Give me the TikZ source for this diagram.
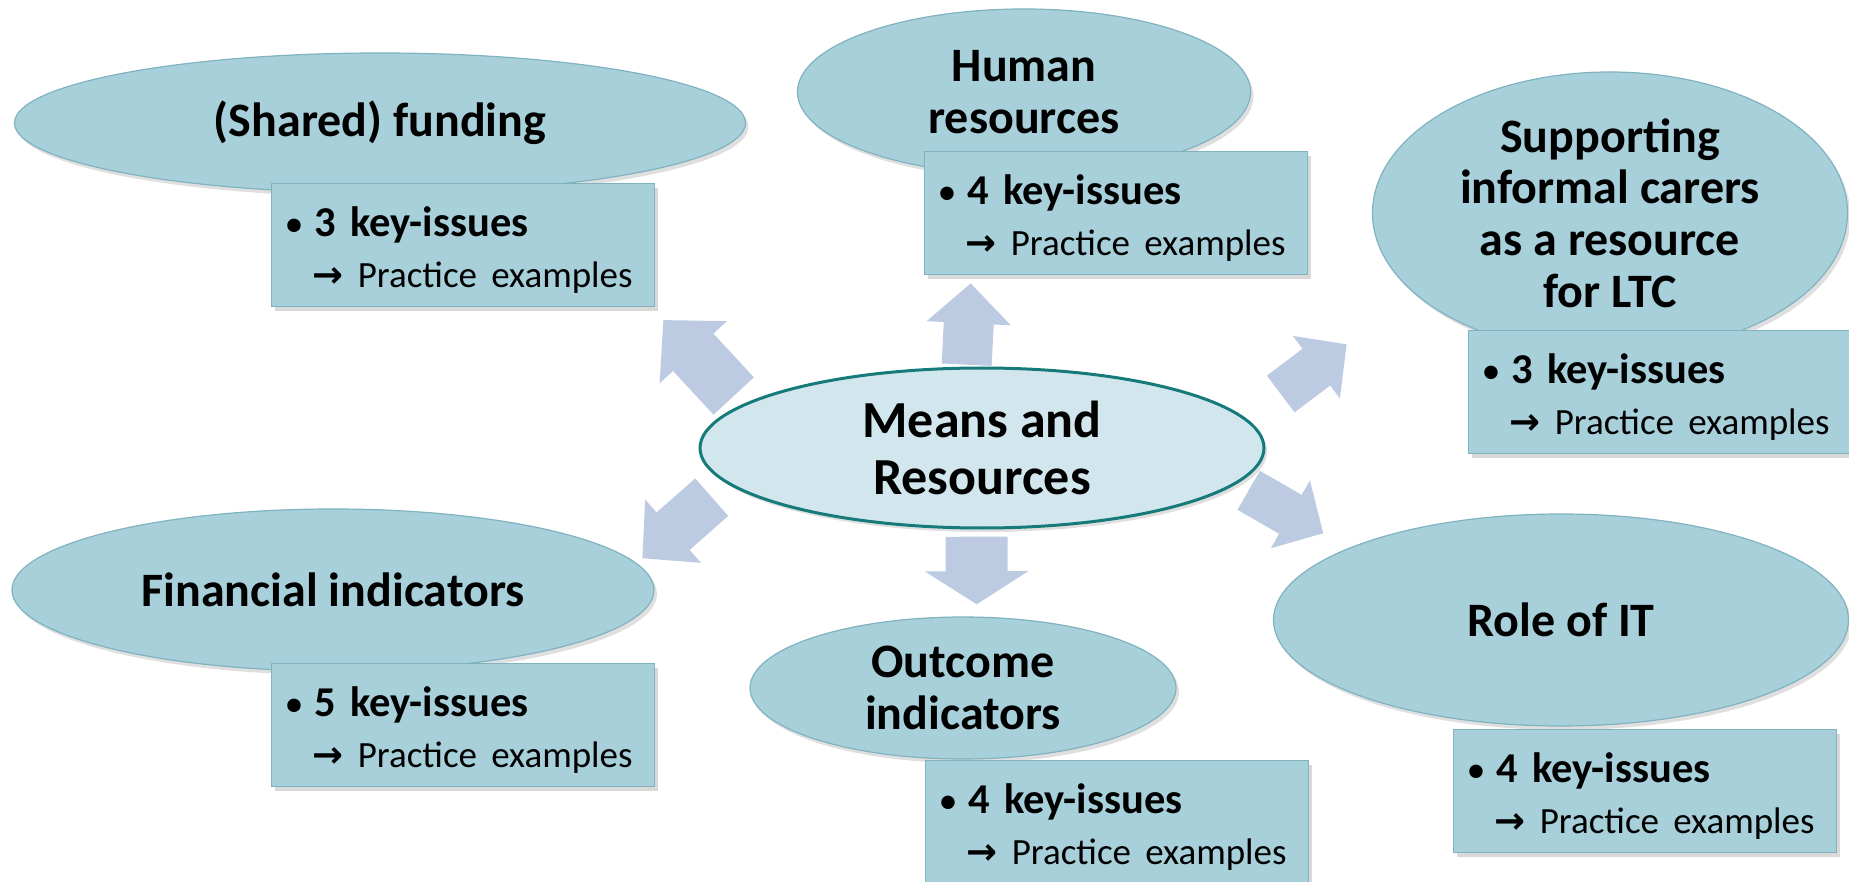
\documentclass[tikz,border=0pt]{standalone}
\usepackage{fontspec}
\setmainfont{Carlito}
\newfontfamily\arrowfont{DejaVu Sans}
\usetikzlibrary{shapes.geometric,arrows.meta,shadows}

\definecolor{bubblefill}{RGB}{167,208,218}
\definecolor{bubbleedge}{RGB}{128,178,192}
\definecolor{mainfill}{RGB}{210,231,237}
\definecolor{mainedge}{RGB}{22,122,122}
\definecolor{arrowblue}{RGB}{188,203,225}

\newcommand{\keyissues}[1]{\rule{0pt}{20pt}\makebox[11.5pt][l]{\hspace*{-3.5pt}\fontsize{19}{25.5}\selectfont •}\textbf{#1 key-issues}\\
  \hspace*{10.5pt}{\fontsize{18.5}{25.5}\selectfont{\arrowfont\bfseries →}\ Practice examples}}

\begin{document}
\begin{tikzpicture}[x=0.5pt, y=-0.5pt,
    bubble/.style={ellipse, fill=bubblefill, draw=bubbleedge, line width=0.6pt, inner sep=0pt,
        align=center, font=\fontsize{24}{25.8}\selectfont\bfseries,
        drop shadow={opacity=0.25, shadow xshift=1.5pt, shadow yshift=-2pt}},
    keybox/.style={rectangle, anchor=north west, fill=bubblefill, draw=bubbleedge, line width=0.6pt,
        minimum width=191.5pt, minimum height=61.5pt, text width=171.5pt,
        inner xsep=10pt, inner ysep=0pt, align=left, font=\fontsize{21.25}{25.5}\selectfont,
        drop shadow={opacity=0.3, shadow xshift=1.5pt, shadow yshift=-2pt}},
    bigarrow/.style n args={3}{draw=arrowblue, line width=#1, -{Triangle[width=#2, length=#3]}}]
    \useasboundingbox (0,0) rectangle (1849,882);

    % block arrows around the centre
    \coordinate (ulA) at (733.7,396);  \coordinate (ulB) at (663.3,320);
    \coordinate (upA) at (966.7,364.7); \coordinate (upB) at (970.7,283.3);
    \coordinate (urA) at (1280.7,394); \coordinate (urB) at (1346.7,344.3);
    \coordinate (drA) at (1248.7,490.3); \coordinate (drB) at (1323.3,533.3);
    \coordinate (dnA) at (976.5,536.7); \coordinate (dnB) at (976.7,604.3);
    \coordinate (dlA) at (711.7,497.2); \coordinate (dlB) at (642.3,558.3);
    \draw[bigarrow={27.5pt}{44.5pt}{22pt}] (ulA) -- (ulB);
    \draw[bigarrow={25pt}{41pt}{20pt}] (upA) -- (upB);
    \draw[bigarrow={23pt}{38pt}{19pt}] (urA) -- (urB);
    \draw[bigarrow={22.5pt}{38pt}{19pt}] (drA) -- (drB);
    \draw[bigarrow={31pt}{51pt}{16.5pt}] (dnA) -- (dnB);
    \draw[bigarrow={25pt}{41pt}{20.5pt}] (dlA) -- (dlB);

    % topics
    \node[bubble, minimum width=365.5pt, minimum height=70pt] (fund) at (380,123) {(Shared) funding};
    \node[bubble, minimum width=226.5pt, minimum height=83pt] (human) at (1024,92) {Human\\ resources};
    \node[bubble, minimum width=237.5pt, minimum height=141pt, inner sep=-3pt] (carers) at (1610,213)
        {Supporting\\ informal carers\\ as a resource\\ for LTC};
    \node[bubble, minimum width=321pt, minimum height=81pt] (fin) at (333,590) {Financial indicators};
    \node[bubble, minimum width=213pt, minimum height=71pt] (outcome) at (963,688) {Outcome\\ indicators};
    \node[bubble, minimum width=287.5pt, minimum height=106pt] (it) at (1561,620) {Role of IT};

    % centre
    \node[bubble, fill=mainfill, draw=mainedge, line width=1.5pt, minimum width=282pt, minimum height=80pt,
        font=\fontsize{26}{28.5}\selectfont\bfseries] (means) at (982,448) {Means and\\ Resources};

    % key-issue boxes
    \node[keybox] (fundkeys) at (271,183) {\keyissues{3}};
    \node[keybox] (humankeys) at (924,151) {\keyissues{4}};
    \node[keybox] (carerskeys) at (1468,330) {\keyissues{3}};
    \node[keybox] (finkeys) at (271,663) {\keyissues{5}};
    \node[keybox] (outcomekeys) at (925,760) {\keyissues{4}};
    \node[keybox] (itkeys) at (1453,729) {\keyissues{4}};
\end{tikzpicture}
\end{document}
